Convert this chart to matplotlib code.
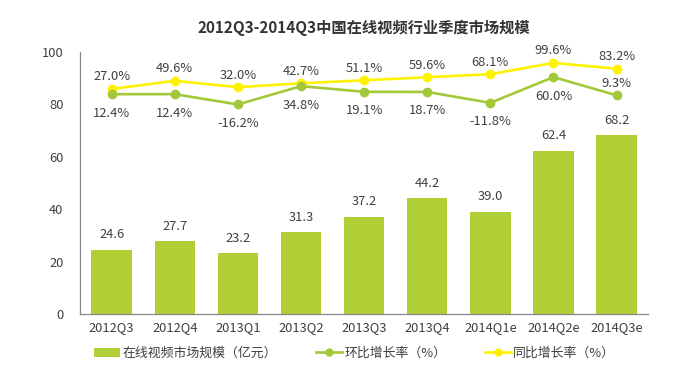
import matplotlib
matplotlib.use("Agg")
import matplotlib.pyplot as plt
from matplotlib.lines import Line2D
from matplotlib.patches import Patch

plt.rcParams['font.family'] = ['Noto Sans CJK SC', 'DejaVu Sans']

categories = ["2012Q3", "2012Q4", "2013Q1", "2013Q2", "2013Q3", "2013Q4", "2014Q1e", "2014Q2e", "2014Q3e"]
market_size = [24.6, 27.7, 23.2, 31.3, 37.2, 44.2, 39.0, 62.4, 68.2]
qoq_growth = [12.4, 12.4, -16.2, 34.8, 19.1, 18.7, -11.8, 60.0, 9.3]
yoy_growth = [27.0, 49.6, 32.0, 42.7, 51.1, 59.6, 68.1, 99.6, 83.2]

title = "2012Q3-2014Q3中国在线视频行业季度市场规模"
legend_labels = ["在线视频市场规模（亿元）", "环比增长率（%）", "同比增长率（%）"]

bar_color = "#afcf35"
green = "#a3c83a"
yellow = "#fff200"
text_color = "#404040"
fs = 9.3

fig = plt.figure(figsize=(6.73, 3.66), dpi=100)
ax = fig.add_axes([0.119, 0.142, 0.844, 0.716])
x = list(range(len(categories)))
ax.bar(x, market_size, width=0.64, color=bar_color, zorder=2)
ax.set_ylim(0, 100)
ax.set_xlim(-0.5, len(categories) - 0.5)
ax.set_yticks([0, 20, 40, 60, 80, 100])
ax.set_xticks(x)
ax.set_xticklabels(categories)
ax.tick_params(axis='both', length=0, labelsize=fs, colors=text_color)
ax.tick_params(axis='y', pad=12)
ax.tick_params(axis='x', pad=5)
for s in ['top', 'right']:
    ax.spines[s].set_visible(False)
for s in ['left', 'bottom']:
    ax.spines[s].set_color('#888888')
    ax.spines[s].set_linewidth(0.9)
for xi, v in zip(x, market_size):
    ax.annotate(f"{v:.1f}", (xi, v), xytext=(0, 6), textcoords='offset points',
                ha='center', va='bottom', fontsize=fs, color=text_color)

ax2 = ax.twinx()
ax2.set_ylim(-600, 130)
ax2.axis('off')
ax2.plot(x, yoy_growth, color=yellow, lw=1.9, marker='o', ms=6, zorder=3)
ax2.plot(x, qoq_growth, color=green, lw=1.9, marker='o', ms=6, zorder=3)
for xi, v in zip(x, yoy_growth):
    ax2.annotate(f"{v:.1f}%", (xi, v), xytext=(0, 4), textcoords='offset points',
                 ha='center', va='bottom', fontsize=fs, color=text_color)
for i, (xi, v) in enumerate(zip(x, qoq_growth)):
    if categories[i] == "2014Q3e":
        ax2.annotate(f"{v:.1f}%", (xi, v), xytext=(0, 4), textcoords='offset points',
                     ha='center', va='bottom', fontsize=fs, color=text_color)
    else:
        ax2.annotate(f"{v:.1f}%", (xi, v), xytext=(0, -9), textcoords='offset points',
                     ha='center', va='top', fontsize=fs, color=text_color)

fig.text(0.54, 0.925, title, ha='center', va='center', fontsize=11,
         fontweight='bold', color="#333333")

handles = [Patch(facecolor=bar_color, edgecolor='none'),
           Line2D([0], [0], color=green, lw=1.9, marker='o', ms=5),
           Line2D([0], [0], color=yellow, lw=1.9, marker='o', ms=5)]
fig.legend(handles, legend_labels, loc='center', bbox_to_anchor=(0.527, 0.035), ncol=3,
           frameon=False, fontsize=fs, handlelength=2.0, handletextpad=0.2,
           columnspacing=3.0, labelcolor=text_color)

fig.savefig("out.png", dpi=100)
